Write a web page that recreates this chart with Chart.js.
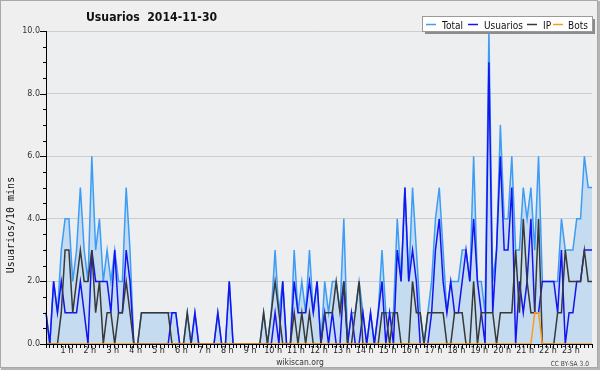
<!DOCTYPE html>
<html>
<head>
<meta charset="utf-8">
<title>Usuarios 2014-11-30</title>
<script src="https://cdn.jsdelivr.net/npm/chart.js@4.4.1/dist/chart.umd.min.js"></script>
<style>
  html, body { margin: 0; padding: 0; background: #efefef; }
  #wrap { width: 600px; height: 370px; }
</style>
</head>
<body>
<div id="wrap"><canvas id="usersChart" width="600" height="370"></canvas></div>
<script>
// hour labels shown under the x axis (one every 6 slots of 10 min)
const hourLabels = ['1 h', '2 h', '3 h', '4 h', '5 h', '6 h', '7 h', '8 h', '9 h', '10 h', '11 h', '12 h',
                    '13 h', '14 h', '15 h', '16 h', '17 h', '18 h', '19 h', '20 h', '21 h', '22 h', '23 h'];

// users per 10 minutes, 144 slots (00:00 .. 23:50), one row = 4 hours
const total = [
    1,0,2,1,3,4,4,2,3,5,3,2,6,3,4,2,3,2,3,2,2,5,3,0,
    0,1,1,1,1,1,1,1,1,1,1,0,0,1,0,1,0,0,0,0,0,1,0,0,
    2,0,0,0,0,0,0,0,0,1,0,1,3,1,2,0,0,3,1,2,1,3,1,2,
    0,2,1,2,2,1,4,0,1,1,2,1,0,1,0,1,3,1,1,1,4,2,5,2,
    5,3,1,0,1,2,4,5,3,1,2,2,2,3,3,2,6,2,2,1,10,2,3,7,
    4,4,6,3,3,5,4,5,3,6,2,2,2,2,2,4,3,3,3,4,4,6,5,5
];
const usuarios = [
    1,0,2,1,2,1,1,1,1,2,1,0,3,2,2,2,2,1,3,1,1,3,2,0,
    0,0,0,0,0,0,0,0,0,1,1,0,0,0,0,1,0,0,0,0,0,1,0,0,
    2,0,0,0,0,0,0,0,0,0,0,0,1,0,2,0,0,2,1,1,1,2,1,2,
    0,1,0,1,0,0,2,0,1,0,0,1,0,1,0,1,2,0,1,0,3,2,5,2,
    3,2,0,0,0,1,3,4,2,1,2,1,1,2,3,2,4,2,1,0,9,1,3,6,
    3,3,5,0,2,1,2,4,1,1,2,2,2,2,1,3,0,1,1,2,2,3,3,3
];
const ip = [
    0,0,0,0,1,3,3,1,2,3,2,2,3,1,2,0,1,1,0,1,1,2,1,0,
    0,1,1,1,1,1,1,1,1,0,0,0,0,1,0,0,0,0,0,0,0,0,0,0,
    0,0,0,0,0,0,0,0,0,1,0,1,2,1,0,0,0,1,0,1,0,1,0,0,
    0,1,1,1,2,1,2,0,0,1,2,0,0,0,0,0,1,1,0,1,1,0,0,0,
    2,1,1,0,1,1,1,1,1,0,0,1,1,1,0,0,2,0,1,1,1,1,0,1,
    1,1,1,3,1,4,2,1,1,4,0,0,0,0,1,1,3,2,2,2,2,3,2,2
];
const bots = [
    0,0,0,0,0,0,0,0,0,0,0,0,0,0,0,0,0,0,0,0,0,0,0,0,
    0,0,0,0,0,0,0,0,0,0,0,0,0,0,0,0,0,0,0,0,0,0,0,0,
    0,0,0,0,0,0,0,0,0,0,0,0,0,0,0,0,0,0,0,0,0,0,0,0,
    0,0,0,0,0,0,0,0,0,0,0,0,0,0,0,0,0,0,0,0,0,0,0,0,
    0,0,0,0,0,0,0,0,0,0,0,0,0,0,0,0,0,0,0,0,0,0,0,0,
    0,0,0,0,0,0,0,0,1,1,0,0,0,0,0,0,0,0,0,0,0,0,0,0
];

const colors = { total: '#3d9cf5', fill: '#c5dcf0', usuarios: '#1414f0', ip: '#383838', bots: '#ff9a1a' };

// category per 10-minute slot
const slots = total.map((_, i) => String(Math.floor(i / 6)).padStart(2, '0') + ':' + (i % 6) + '0');

function fitText(ctx, text, x, y, font, color, scaleX, align) {
    ctx.save();
    ctx.font = font;
    ctx.fillStyle = color;
    ctx.textBaseline = 'alphabetic';
    ctx.textAlign = 'left';
    const w = ctx.measureText(text).width * scaleX;
    const left = align === 'center' ? x - w / 2 : (align === 'right' ? x - w : x);
    ctx.translate(left, y);
    ctx.scale(scaleX, 1);
    ctx.fillText(text, 0, 0);
    ctx.restore();
}

const backdrop = {
    id: 'backdrop',
    beforeDraw(chart) {
        const ctx = chart.ctx, a = chart.chartArea;
        ctx.save();
        ctx.fillStyle = '#efefef';
        ctx.fillRect(0, 0, chart.width, chart.height);
        ctx.fillStyle = '#edeef0';
        ctx.fillRect(a.left, a.top, a.right - a.left, a.bottom - a.top);
        ctx.restore();
    }
};

const overlay = {
    id: 'overlay',
    afterDatasetsDraw(chart) {
        const ctx = chart.ctx, a = chart.chartArea, y = chart.scales.y;
        ctx.save();
        ctx.strokeStyle = '#000';
        ctx.lineWidth = 1;
        ctx.beginPath();
        ctx.moveTo(a.left + 0.5, a.top);
        ctx.lineTo(a.left + 0.5, a.bottom + 0.5);
        ctx.lineTo(a.right, a.bottom + 0.5);
        // y ticks, long at labelled values, short at every half unit
        for (let k = 0; k <= 20; k++) {
            const py = Math.round(y.getPixelForValue(k / 2)) + 0.5;
            const len = k % 4 === 0 ? 6 : 3;
            ctx.moveTo(a.left - len, py);
            ctx.lineTo(a.left, py);
        }
        ctx.stroke();
        ctx.restore();
    },
    afterDraw(chart) {
        const ctx = chart.ctx;
        ctx.save();

        // title
        fitText(ctx, 'Usuarios  2014-11-30', 86, 21, 'bold 13px "DejaVu Sans"', '#111', 0.84, 'left');

        // legend box
        ctx.fillStyle = '#8c8c8c';
        ctx.fillRect(425, 19, 170, 15);
        ctx.fillStyle = '#ffffff';
        ctx.fillRect(423, 17, 170, 15);
        ctx.strokeStyle = '#9a9a9a';
        ctx.lineWidth = 1;
        ctx.strokeRect(422.5, 16.5, 170, 15);
        const items = [
            ['Total', colors.total, 426, 442],
            ['Usuarios', colors.usuarios, 468, 484],
            ['IP', colors.ip, 527, 543],
            ['Bots', colors.bots, 553, 568]
        ];
        items.forEach(([label, color, lx, tx]) => {
            ctx.strokeStyle = color;
            ctx.lineWidth = 1.5;
            ctx.beginPath();
            ctx.moveTo(lx, 24.5);
            ctx.lineTo(lx + 10, 24.5);
            ctx.stroke();
            fitText(ctx, label, tx, 28.5, '10px "DejaVu Sans"', '#111', 0.9, 'left');
        });

        // y axis title
        ctx.save();
        ctx.translate(14, 225);
        ctx.rotate(-Math.PI / 2);
        ctx.font = '10px "DejaVu Sans Mono"';
        ctx.fillStyle = '#111';
        ctx.textAlign = 'center';
        ctx.textBaseline = 'alphabetic';
        ctx.fillText('Usuarios/10 mins', 0, 0);
        ctx.restore();

        // footer
        fitText(ctx, 'wikiscan.org', 300, 365, '9px "DejaVu Sans"', '#333', 0.85, 'center');
        fitText(ctx, 'CC BY-SA 3.0', 589, 366, '7px "DejaVu Sans"', '#444', 0.85, 'right');

        // frame
        ctx.strokeStyle = '#a8a8a8';
        ctx.lineWidth = 1;
        ctx.strokeRect(0.5, 0.5, 597, 367);
        ctx.fillStyle = '#b4b4b4';
        ctx.fillRect(598, 1, 2, 369);
        ctx.fillRect(1, 368, 599, 2);
        ctx.restore();
    }
};

const usersChart = new Chart(document.getElementById('usersChart'), {
    type: 'line',
    data: {
        labels: slots,
        datasets: [
            { label: 'Total', data: total, borderColor: colors.total, backgroundColor: colors.fill, fill: 'origin', order: 4 },
            { label: 'Usuarios', data: usuarios, borderColor: colors.usuarios, fill: false, order: 3 },
            { label: 'IP', data: ip, borderColor: colors.ip, fill: false, order: 2 },
            { label: 'Bots', data: bots, borderColor: colors.bots, fill: false, order: 1 }
        ]
    },
    options: {
        responsive: false,
        animation: false,
        devicePixelRatio: 1,
        layout: { padding: { top: 31, right: 8, bottom: 0, left: 0 } },
        elements: {
            line: { borderWidth: 1.5, tension: 0 },
            point: { radius: 0, hoverRadius: 0 }
        },
        plugins: {
            legend: { display: false },
            title: { display: false },
            tooltip: { enabled: false }
        },
        scales: {
            x: {
                type: 'category',
                offset: false,
                grid: { drawOnChartArea: false, drawTicks: true, tickLength: 4, tickColor: '#000' },
                border: { display: true, color: '#000' },
                ticks: {
                    autoSkip: false,
                    maxRotation: 0,
                    minRotation: 0,
                    padding: -2,
                    labelOffset: -2,
                    color: '#222',
                    font: { family: 'DejaVu Sans', size: 8 },
                    callback: (v, i) => (i % 6 === 0 && i > 0) ? hourLabels[i / 6 - 1] : ''
                },
                afterFit: s => { s.height = 26; }
            },
            y: {
                min: 0,
                max: 10,
                grid: {
                    drawTicks: false,
                    color: c => (c.tick && c.tick.value > 0) ? '#cdcdcd' : 'rgba(0,0,0,0)'
                },
                border: { display: true, color: '#000' },
                ticks: {
                    stepSize: 2,
                    padding: 6,
                    color: '#333',
                    font: { family: 'DejaVu Sans', size: 8 },
                    callback: v => v.toFixed(1)
                },
                afterFit: s => { s.width = 46; }
            }
        }
    },
    plugins: [backdrop, overlay]
});
</script>
</body>
</html>
